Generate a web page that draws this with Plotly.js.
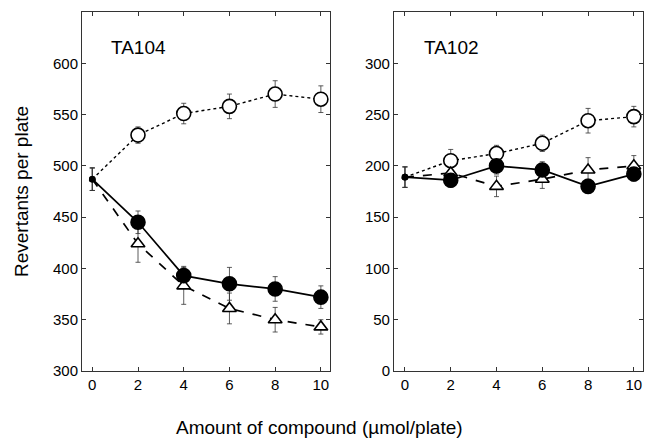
<!DOCTYPE html>
<html><head><meta charset="utf-8">
<script src="https://cdn.plot.ly/plotly-3.0.1.min.js"></script>
<style>body{margin:0;background:#fff}#c{width:645px;height:442px}</style>
</head><body><div id="c"></div>
<script>
const dose = [0, 2, 4, 6, 8, 10];
// TA104
const ta104Open = [487, 530, 551, 558, 570, 565];
const ta104OpenErr = [11, 8, 10, 12, 13, 13];
const ta104Filled = [487, 445, 393, 385, 380, 372];
const ta104FilledErr = [11, 11, 9, 16, 12, 11];
const ta104Tri = [487, 424, 383, 361, 350, 343];
const ta104TriErr = [11, 18, 18, 15, 12, 7];
// TA102
const ta102Open = [189, 205, 212, 222, 244, 248];
const ta102OpenErr = [10, 11, 8, 8, 12, 10];
const ta102Filled = [189, 186, 200, 196, 180, 192];
const ta102FilledErr = [10, 7, 8, 8, 7, 7];
const ta102Tri = [189, 193, 180, 187, 196, 200];
const ta102TriErr = [10, 9, 10, 9, 12, 10];
const xTicks = [0, 2, 4, 6, 8, 10];

function errTrace(y, err, xa, ya) {
  return {
    x: dose, y: y, xaxis: xa, yaxis: ya, type: 'scatter', mode: 'markers',
    marker: {size: 1, color: 'rgba(0,0,0,0)'},
    error_y: {type: 'data', array: err, visible: true, color: '#333', thickness: 0.8, width: 2.5},
    showlegend: false
  };
}
function series(y, kind, xa, ya) {
  const sym = kind === 'tri' ? 'triangle-up' : 'circle';
  const dash = kind === 'open' ? 'dot' : kind === 'filled' ? 'solid' : 'dash';
  const sizes = dose.map(d => d === 0 ? 5 : (kind === 'tri' ? 12 : 14));
  const fills = dose.map(d => d === 0 ? '#000' : (kind === 'filled' ? '#000' : '#fff'));
  return {
    x: dose, y: y, xaxis: xa, yaxis: ya, type: 'scatter', mode: 'lines+markers',
    line: {color: '#000', width: kind === 'open' ? 1.4 : 1.7, dash: dash},
    marker: {symbol: sym, size: sizes, color: fills, opacity: 1, line: {color: '#000', width: 1.6}},
    showlegend: false
  };
}

const data = [
  errTrace(ta104Open, ta104OpenErr, 'x', 'y'),
  errTrace(ta104Tri, ta104TriErr, 'x', 'y'),
  errTrace(ta104Filled, ta104FilledErr, 'x', 'y'),
  errTrace(ta102Open, ta102OpenErr, 'x2', 'y2'),
  errTrace(ta102Tri, ta102TriErr, 'x2', 'y2'),
  errTrace(ta102Filled, ta102FilledErr, 'x2', 'y2'),
  series(ta104Open, 'open', 'x', 'y'),
  series(ta104Tri, 'tri', 'x', 'y'),
  series(ta104Filled, 'filled', 'x', 'y'),
  series(ta102Open, 'open', 'x2', 'y2'),
  series(ta102Tri, 'tri', 'x2', 'y2'),
  series(ta102Filled, 'filled', 'x2', 'y2')
];

const axBase = {
  showgrid: false, zeroline: false, showline: true, mirror: 'ticks',
  linecolor: '#333', linewidth: 1, ticks: 'inside', ticklen: 4, tickcolor: '#333',
  tickfont: {family: 'Liberation Sans, Arial, sans-serif', size: 15, color: '#000'}
};

const layout = {
  width: 645, height: 442,
  margin: {l: 82, r: 2, t: 12, b: 71},
  paper_bgcolor: '#fff', plot_bgcolor: '#fff',
  font: {family: 'Liberation Sans, Arial, sans-serif', color: '#000'},
  xaxis: Object.assign({}, axBase, {domain: [0, 0.4421], range: [-0.45, 10.4], tickvals: xTicks}),
  xaxis2: Object.assign({}, axBase, {domain: [0.5561, 1], range: [-0.48, 10.4], tickvals: xTicks, anchor: 'y2'}),
  yaxis: Object.assign({}, axBase, {range: [300, 650], tickvals: [300, 350, 400, 450, 500, 550, 600],
    title: {text: 'Revertants per plate', font: {size: 19}, standoff: 19}}),
  yaxis2: Object.assign({}, axBase, {range: [0, 350], tickvals: [0, 50, 100, 150, 200, 250, 300], anchor: 'x2'}),
  annotations: [
    {text: 'TA104', xref: 'x', yref: 'y', x: 0.74, y: 615, xanchor: 'left', showarrow: false, font: {size: 19}},
    {text: 'TA102', xref: 'x2', yref: 'y2', x: 0.74, y: 315, xanchor: 'left', showarrow: false, font: {size: 19}},
    {text: 'Amount of compound (\u00b5mol/plate)', xref: 'paper', yref: 'paper', x: 0.424, y: -0.158,
     xanchor: 'center', yanchor: 'middle', showarrow: false, font: {size: 19}}
  ]
};

Plotly.newPlot('c', data, layout, {displayModeBar: false, staticPlot: true});
</script></body></html>
